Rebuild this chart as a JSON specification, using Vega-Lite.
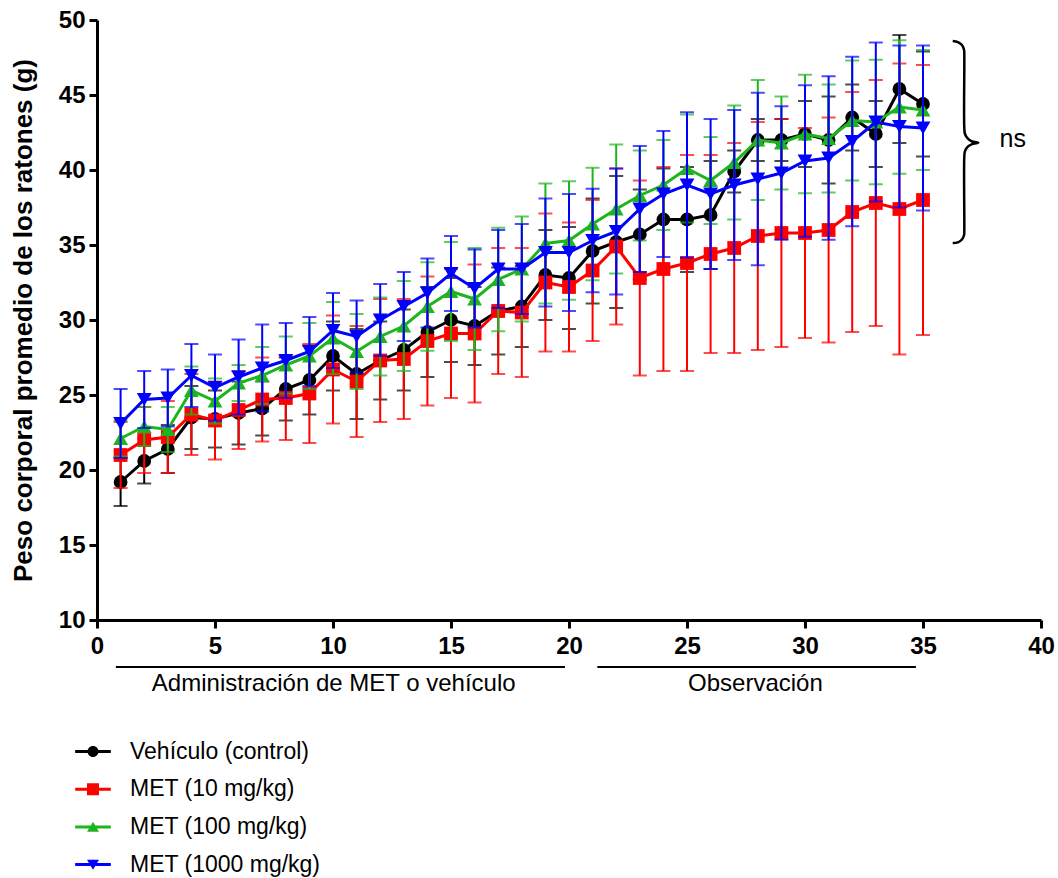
{
  "$schema": "https://vega.github.io/schema/vega-lite/v6.json",
  "width": 944,
  "height": 600,
  "autosize": {"type": "none"},
  "padding": {"left": 97, "top": 20, "right": 17, "bottom": 258},
  "background": "white",
  "config": {
    "view": {"stroke": null},
    "font": "Liberation Sans",
    "axis": {"grid": false, "domainColor": "black", "domainWidth": 3, "tickColor": "black", "tickWidth": 3, "tickSize": 8, "labelFont": "Liberation Sans", "labelFontSize": 24, "labelFontWeight": "bold", "labelColor": "black", "titleFont": "Liberation Sans", "titleFontSize": 26, "titleFontWeight": "bold", "titleColor": "black"}
  },
  "datasets": {
    "main": [
      {"d":1,"g":"Vehículo (control)","m":19.2,"sd":1.6},{"d":2,"g":"Vehículo (control)","m":20.6,"sd":1.5},{"d":3,"g":"Vehículo (control)","m":21.4,"sd":1.6},{"d":4,"g":"Vehículo (control)","m":23.5,"sd":2.1},{"d":5,"g":"Vehículo (control)","m":23.4,"sd":1.9},{"d":6,"g":"Vehículo (control)","m":23.8,"sd":2.1},{"d":7,"g":"Vehículo (control)","m":24.1,"sd":1.8},{"d":8,"g":"Vehículo (control)","m":25.4,"sd":2.1},{"d":9,"g":"Vehículo (control)","m":26.0,"sd":2.3},{"d":10,"g":"Vehículo (control)","m":27.6,"sd":2.3},{"d":11,"g":"Vehículo (control)","m":26.4,"sd":3.0},{"d":12,"g":"Vehículo (control)","m":27.3,"sd":2.6},{"d":13,"g":"Vehículo (control)","m":28.0,"sd":2.7},{"d":14,"g":"Vehículo (control)","m":29.2,"sd":3.0},{"d":15,"g":"Vehículo (control)","m":30.0,"sd":2.8},{"d":16,"g":"Vehículo (control)","m":29.6,"sd":2.6},{"d":17,"g":"Vehículo (control)","m":30.6,"sd":2.9},{"d":18,"g":"Vehículo (control)","m":30.9,"sd":2.7},{"d":19,"g":"Vehículo (control)","m":33.0,"sd":3.0},{"d":20,"g":"Vehículo (control)","m":32.8,"sd":3.4},{"d":21,"g":"Vehículo (control)","m":34.6,"sd":3.5},{"d":22,"g":"Vehículo (control)","m":35.2,"sd":4.4},{"d":23,"g":"Vehículo (control)","m":35.7,"sd":3.0},{"d":24,"g":"Vehículo (control)","m":36.7,"sd":3.4},{"d":25,"g":"Vehículo (control)","m":36.7,"sd":3.5},{"d":26,"g":"Vehículo (control)","m":37.0,"sd":3.6},{"d":27,"g":"Vehículo (control)","m":39.9,"sd":1.4},{"d":28,"g":"Vehículo (control)","m":42.0,"sd":1.4},{"d":29,"g":"Vehículo (control)","m":42.0,"sd":1.4},{"d":30,"g":"Vehículo (control)","m":42.4,"sd":2.2},{"d":31,"g":"Vehículo (control)","m":42.0,"sd":2.9},{"d":32,"g":"Vehículo (control)","m":43.5,"sd":2.2},{"d":33,"g":"Vehículo (control)","m":42.4,"sd":2.2},{"d":34,"g":"Vehículo (control)","m":45.4,"sd":3.6},{"d":35,"g":"Vehículo (control)","m":44.4,"sd":3.5},
      {"d":1,"g":"MET (10 mg/kg)","m":21.0,"sd":2.2},{"d":2,"g":"MET (10 mg/kg)","m":22.0,"sd":2.2},{"d":3,"g":"MET (10 mg/kg)","m":22.2,"sd":2.4},{"d":4,"g":"MET (10 mg/kg)","m":23.7,"sd":2.7},{"d":5,"g":"MET (10 mg/kg)","m":23.3,"sd":2.6},{"d":6,"g":"MET (10 mg/kg)","m":24.0,"sd":2.6},{"d":7,"g":"MET (10 mg/kg)","m":24.7,"sd":2.8},{"d":8,"g":"MET (10 mg/kg)","m":24.8,"sd":2.8},{"d":9,"g":"MET (10 mg/kg)","m":25.1,"sd":3.3},{"d":10,"g":"MET (10 mg/kg)","m":26.7,"sd":3.6},{"d":11,"g":"MET (10 mg/kg)","m":25.9,"sd":3.7},{"d":12,"g":"MET (10 mg/kg)","m":27.3,"sd":4.1},{"d":13,"g":"MET (10 mg/kg)","m":27.4,"sd":4.0},{"d":14,"g":"MET (10 mg/kg)","m":28.6,"sd":4.3},{"d":15,"g":"MET (10 mg/kg)","m":29.1,"sd":4.3},{"d":16,"g":"MET (10 mg/kg)","m":29.1,"sd":4.6},{"d":17,"g":"MET (10 mg/kg)","m":30.6,"sd":4.2},{"d":18,"g":"MET (10 mg/kg)","m":30.5,"sd":4.3},{"d":19,"g":"MET (10 mg/kg)","m":32.5,"sd":4.6},{"d":20,"g":"MET (10 mg/kg)","m":32.2,"sd":4.3},{"d":21,"g":"MET (10 mg/kg)","m":33.3,"sd":4.7},{"d":22,"g":"MET (10 mg/kg)","m":34.9,"sd":5.2},{"d":23,"g":"MET (10 mg/kg)","m":32.8,"sd":6.5},{"d":24,"g":"MET (10 mg/kg)","m":33.4,"sd":6.8},{"d":25,"g":"MET (10 mg/kg)","m":33.8,"sd":7.2},{"d":26,"g":"MET (10 mg/kg)","m":34.4,"sd":6.6},{"d":27,"g":"MET (10 mg/kg)","m":34.8,"sd":7.0},{"d":28,"g":"MET (10 mg/kg)","m":35.6,"sd":7.6},{"d":29,"g":"MET (10 mg/kg)","m":35.8,"sd":7.6},{"d":30,"g":"MET (10 mg/kg)","m":35.8,"sd":7.0},{"d":31,"g":"MET (10 mg/kg)","m":36.0,"sd":7.5},{"d":32,"g":"MET (10 mg/kg)","m":37.2,"sd":8.0},{"d":33,"g":"MET (10 mg/kg)","m":37.8,"sd":8.2},{"d":34,"g":"MET (10 mg/kg)","m":37.4,"sd":9.7},{"d":35,"g":"MET (10 mg/kg)","m":38.0,"sd":9.0},
      {"d":1,"g":"MET (100 mg/kg)","m":22.1,"sd":1.2},{"d":2,"g":"MET (100 mg/kg)","m":22.9,"sd":1.3},{"d":3,"g":"MET (100 mg/kg)","m":22.7,"sd":1.5},{"d":4,"g":"MET (100 mg/kg)","m":25.3,"sd":1.6},{"d":5,"g":"MET (100 mg/kg)","m":24.6,"sd":1.5},{"d":6,"g":"MET (100 mg/kg)","m":25.8,"sd":1.2},{"d":7,"g":"MET (100 mg/kg)","m":26.3,"sd":1.9},{"d":8,"g":"MET (100 mg/kg)","m":27.0,"sd":1.9},{"d":9,"g":"MET (100 mg/kg)","m":27.6,"sd":2.2},{"d":10,"g":"MET (100 mg/kg)","m":28.8,"sd":2.4},{"d":11,"g":"MET (100 mg/kg)","m":27.9,"sd":2.5},{"d":12,"g":"MET (100 mg/kg)","m":28.9,"sd":2.6},{"d":13,"g":"MET (100 mg/kg)","m":29.6,"sd":3.0},{"d":14,"g":"MET (100 mg/kg)","m":30.9,"sd":2.95},{"d":15,"g":"MET (100 mg/kg)","m":31.9,"sd":3.3},{"d":16,"g":"MET (100 mg/kg)","m":31.4,"sd":3.4},{"d":17,"g":"MET (100 mg/kg)","m":32.7,"sd":3.45},{"d":18,"g":"MET (100 mg/kg)","m":33.4,"sd":3.5},{"d":19,"g":"MET (100 mg/kg)","m":35.1,"sd":4.0},{"d":20,"g":"MET (100 mg/kg)","m":35.3,"sd":3.95},{"d":21,"g":"MET (100 mg/kg)","m":36.4,"sd":3.75},{"d":22,"g":"MET (100 mg/kg)","m":37.4,"sd":4.3},{"d":23,"g":"MET (100 mg/kg)","m":38.3,"sd":3.0},{"d":24,"g":"MET (100 mg/kg)","m":39.0,"sd":3.0},{"d":25,"g":"MET (100 mg/kg)","m":40.1,"sd":3.6},{"d":26,"g":"MET (100 mg/kg)","m":39.3,"sd":2.9},{"d":27,"g":"MET (100 mg/kg)","m":40.5,"sd":3.8},{"d":28,"g":"MET (100 mg/kg)","m":42.0,"sd":4.0},{"d":29,"g":"MET (100 mg/kg)","m":41.8,"sd":3.1},{"d":30,"g":"MET (100 mg/kg)","m":42.4,"sd":3.95},{"d":31,"g":"MET (100 mg/kg)","m":42.1,"sd":3.6},{"d":32,"g":"MET (100 mg/kg)","m":43.3,"sd":4.0},{"d":33,"g":"MET (100 mg/kg)","m":43.2,"sd":4.15},{"d":34,"g":"MET (100 mg/kg)","m":44.2,"sd":4.45},{"d":35,"g":"MET (100 mg/kg)","m":44.0,"sd":4.0},
      {"d":1,"g":"MET (1000 mg/kg)","m":23.1,"sd":2.3},{"d":2,"g":"MET (1000 mg/kg)","m":24.7,"sd":1.9},{"d":3,"g":"MET (1000 mg/kg)","m":24.8,"sd":1.9},{"d":4,"g":"MET (1000 mg/kg)","m":26.3,"sd":2.1},{"d":5,"g":"MET (1000 mg/kg)","m":25.5,"sd":2.2},{"d":6,"g":"MET (1000 mg/kg)","m":26.2,"sd":2.5},{"d":7,"g":"MET (1000 mg/kg)","m":26.8,"sd":2.9},{"d":8,"g":"MET (1000 mg/kg)","m":27.3,"sd":2.5},{"d":9,"g":"MET (1000 mg/kg)","m":27.9,"sd":2.3},{"d":10,"g":"MET (1000 mg/kg)","m":29.3,"sd":2.5},{"d":11,"g":"MET (1000 mg/kg)","m":28.9,"sd":2.4},{"d":12,"g":"MET (1000 mg/kg)","m":30.0,"sd":2.4},{"d":13,"g":"MET (1000 mg/kg)","m":30.9,"sd":2.3},{"d":14,"g":"MET (1000 mg/kg)","m":31.8,"sd":2.3},{"d":15,"g":"MET (1000 mg/kg)","m":33.1,"sd":2.5},{"d":16,"g":"MET (1000 mg/kg)","m":32.1,"sd":2.6},{"d":17,"g":"MET (1000 mg/kg)","m":33.4,"sd":2.6},{"d":18,"g":"MET (1000 mg/kg)","m":33.4,"sd":3.0},{"d":19,"g":"MET (1000 mg/kg)","m":34.5,"sd":3.6},{"d":20,"g":"MET (1000 mg/kg)","m":34.5,"sd":3.9},{"d":21,"g":"MET (1000 mg/kg)","m":35.3,"sd":3.45},{"d":22,"g":"MET (1000 mg/kg)","m":35.9,"sd":4.2},{"d":23,"g":"MET (1000 mg/kg)","m":37.4,"sd":4.2},{"d":24,"g":"MET (1000 mg/kg)","m":38.4,"sd":4.2},{"d":25,"g":"MET (1000 mg/kg)","m":39.0,"sd":4.85},{"d":26,"g":"MET (1000 mg/kg)","m":38.4,"sd":5.0},{"d":27,"g":"MET (1000 mg/kg)","m":39.0,"sd":5.0},{"d":28,"g":"MET (1000 mg/kg)","m":39.4,"sd":5.75},{"d":29,"g":"MET (1000 mg/kg)","m":39.8,"sd":4.45},{"d":30,"g":"MET (1000 mg/kg)","m":40.6,"sd":5.05},{"d":31,"g":"MET (1000 mg/kg)","m":40.8,"sd":5.45},{"d":32,"g":"MET (1000 mg/kg)","m":41.9,"sd":5.65},{"d":33,"g":"MET (1000 mg/kg)","m":43.2,"sd":5.3},{"d":34,"g":"MET (1000 mg/kg)","m":42.9,"sd":5.4},{"d":35,"g":"MET (1000 mg/kg)","m":42.8,"sd":5.5}
    ],
    "spans": [
      {"x1":0.8,"x2":19.83,"y":6.87},
      {"x1":21.2,"x2":34.7,"y":6.87}
    ],
    "labels": [
      {"x":10.03,"y":5.73,"label":"Administración de MET o vehículo"},
      {"x":27.9,"y":5.73,"label":"Observación"}
    ],
    "ns": [{"x":38.8,"y":42.1,"label":"ns"}],
    "brace": [
      {"i":0,"x":36.26,"y":48.6},{"i":1,"x":36.48,"y":48.53},{"i":2,"x":36.65,"y":48.33},{"i":3,"x":36.74,"y":48.0},{"i":4,"x":36.75,"y":47.67},{"i":5,"x":36.75,"y":42.8},{"i":6,"x":36.78,"y":42.4},{"i":7,"x":36.91,"y":42.07},{"i":8,"x":37.08,"y":41.9},{"i":9,"x":37.34,"y":41.82},{"i":10,"x":37.08,"y":41.73},{"i":11,"x":36.91,"y":41.57},{"i":12,"x":36.78,"y":41.27},{"i":13,"x":36.75,"y":40.87},{"i":14,"x":36.75,"y":36.0},{"i":15,"x":36.74,"y":35.67},{"i":16,"x":36.65,"y":35.37},{"i":17,"x":36.48,"y":35.18},{"i":18,"x":36.26,"y":35.13}
    ]
  },
  "data": {"name": "main"},
  "resolve": {"scale": {"color": "independent", "shape": "independent"}, "legend": {"color": "independent", "shape": "independent"}},
  "layer": [
    {
      "transform": [{"filter": {"field": "g", "equal": "Vehículo (control)"}}],
      "layer": [
        {"mark": {"type": "errorbar", "ticks": {"size": 14}, "thickness": 2},
         "encoding": {"x": {"field": "d", "type": "quantitative", "scale": {"domain": [0, 40], "nice": false, "zero": false}, "axis": {"title": null}}, "y": {"field": "m", "type": "quantitative", "scale": {"domain": [10, 50], "nice": false, "zero": false}, "axis": {"title": "Peso corporal promedio de los ratones (g)"}}, "yError": {"field": "sd"}, "color": {"field": "g", "type": "nominal", "scale": {"domain": ["Vehículo (control)", "MET (10 mg/kg)", "MET (100 mg/kg)", "MET (1000 mg/kg)"], "range": ["#000000", "#ff0000", "#1db51d", "#0000ff"]}, "legend": null}}},
        {"mark": {"type": "line", "strokeWidth": 3},
         "encoding": {"x": {"field": "d", "type": "quantitative", "scale": {"domain": [0, 40], "nice": false, "zero": false}, "axis": {"values": [0,5,10,15,20,25,30,35,40], "title": null, "labelPadding": 6, "labelFlush": false}}, "y": {"field": "m", "type": "quantitative", "scale": {"domain": [10, 50], "nice": false, "zero": false}, "axis": {"values": [10,15,20,25,30,35,40,45,50], "title": "Peso corporal promedio de los ratones (g)", "titlePadding": 22, "labelPadding": 4}}, "color": {"field": "g", "type": "nominal", "scale": {"domain": ["Vehículo (control)", "MET (10 mg/kg)", "MET (100 mg/kg)", "MET (1000 mg/kg)"], "range": ["#000000", "#ff0000", "#1db51d", "#0000ff"]}, "legend": null}}},
        {"mark": {"type": "point", "filled": true, "opacity": 1, "size": 190},
         "encoding": {"x": {"field": "d", "type": "quantitative", "axis": {"title": null}}, "y": {"field": "m", "type": "quantitative", "axis": {"title": "Peso corporal promedio de los ratones (g)"}}, "color": {"field": "g", "type": "nominal", "scale": {"domain": ["Vehículo (control)", "MET (10 mg/kg)", "MET (100 mg/kg)", "MET (1000 mg/kg)"], "range": ["#000000", "#ff0000", "#1db51d", "#0000ff"]}, "legend": null}, "shape": {"field": "g", "type": "nominal", "scale": {"domain": ["Vehículo (control)", "MET (10 mg/kg)", "MET (100 mg/kg)", "MET (1000 mg/kg)"], "range": ["circle", "square", "triangle-up", "triangle-down"]}, "legend": null}}}
      ]
    },
    {
      "transform": [{"filter": {"field": "g", "equal": "MET (10 mg/kg)"}}],
      "layer": [
        {"mark": {"type": "errorbar", "ticks": {"size": 14}, "thickness": 2},
         "encoding": {"x": {"field": "d", "type": "quantitative", "axis": {"title": null}}, "y": {"field": "m", "type": "quantitative", "axis": {"title": "Peso corporal promedio de los ratones (g)"}}, "yError": {"field": "sd"}, "color": {"field": "g", "type": "nominal", "scale": {"domain": ["Vehículo (control)", "MET (10 mg/kg)", "MET (100 mg/kg)", "MET (1000 mg/kg)"], "range": ["#000000", "#ff0000", "#1db51d", "#0000ff"]}, "legend": null}}},
        {"mark": {"type": "line", "strokeWidth": 3},
         "encoding": {"x": {"field": "d", "type": "quantitative", "axis": {"title": null}}, "y": {"field": "m", "type": "quantitative", "axis": {"title": "Peso corporal promedio de los ratones (g)"}}, "color": {"field": "g", "type": "nominal", "scale": {"domain": ["Vehículo (control)", "MET (10 mg/kg)", "MET (100 mg/kg)", "MET (1000 mg/kg)"], "range": ["#000000", "#ff0000", "#1db51d", "#0000ff"]}, "legend": null}}},
        {"mark": {"type": "point", "filled": true, "opacity": 1, "size": 190},
         "encoding": {"x": {"field": "d", "type": "quantitative", "axis": {"title": null}}, "y": {"field": "m", "type": "quantitative", "axis": {"title": "Peso corporal promedio de los ratones (g)"}}, "color": {"field": "g", "type": "nominal", "scale": {"domain": ["Vehículo (control)", "MET (10 mg/kg)", "MET (100 mg/kg)", "MET (1000 mg/kg)"], "range": ["#000000", "#ff0000", "#1db51d", "#0000ff"]}, "legend": null}, "shape": {"field": "g", "type": "nominal", "scale": {"domain": ["Vehículo (control)", "MET (10 mg/kg)", "MET (100 mg/kg)", "MET (1000 mg/kg)"], "range": ["circle", "square", "triangle-up", "triangle-down"]}, "legend": null}}}
      ]
    },
    {
      "transform": [{"filter": {"field": "g", "equal": "MET (100 mg/kg)"}}],
      "layer": [
        {"mark": {"type": "errorbar", "ticks": {"size": 14}, "thickness": 2},
         "encoding": {"x": {"field": "d", "type": "quantitative", "axis": {"title": null}}, "y": {"field": "m", "type": "quantitative", "axis": {"title": "Peso corporal promedio de los ratones (g)"}}, "yError": {"field": "sd"}, "color": {"field": "g", "type": "nominal", "scale": {"domain": ["Vehículo (control)", "MET (10 mg/kg)", "MET (100 mg/kg)", "MET (1000 mg/kg)"], "range": ["#000000", "#ff0000", "#1db51d", "#0000ff"]}, "legend": null}}},
        {"mark": {"type": "line", "strokeWidth": 3},
         "encoding": {"x": {"field": "d", "type": "quantitative", "axis": {"title": null}}, "y": {"field": "m", "type": "quantitative", "axis": {"title": "Peso corporal promedio de los ratones (g)"}}, "color": {"field": "g", "type": "nominal", "scale": {"domain": ["Vehículo (control)", "MET (10 mg/kg)", "MET (100 mg/kg)", "MET (1000 mg/kg)"], "range": ["#000000", "#ff0000", "#1db51d", "#0000ff"]}, "legend": null}}},
        {"mark": {"type": "point", "filled": true, "opacity": 1, "size": 220},
         "encoding": {"x": {"field": "d", "type": "quantitative", "axis": {"title": null}}, "y": {"field": "m", "type": "quantitative", "axis": {"title": "Peso corporal promedio de los ratones (g)"}}, "color": {"field": "g", "type": "nominal", "scale": {"domain": ["Vehículo (control)", "MET (10 mg/kg)", "MET (100 mg/kg)", "MET (1000 mg/kg)"], "range": ["#000000", "#ff0000", "#1db51d", "#0000ff"]}, "legend": null}, "shape": {"field": "g", "type": "nominal", "scale": {"domain": ["Vehículo (control)", "MET (10 mg/kg)", "MET (100 mg/kg)", "MET (1000 mg/kg)"], "range": ["circle", "square", "triangle-up", "triangle-down"]}, "legend": null}}}
      ]
    },
    {
      "transform": [{"filter": {"field": "g", "equal": "MET (1000 mg/kg)"}}],
      "layer": [
        {"mark": {"type": "errorbar", "ticks": {"size": 14}, "thickness": 2},
         "encoding": {"x": {"field": "d", "type": "quantitative", "axis": {"title": null}}, "y": {"field": "m", "type": "quantitative", "axis": {"title": "Peso corporal promedio de los ratones (g)"}}, "yError": {"field": "sd"}, "color": {"field": "g", "type": "nominal", "scale": {"domain": ["Vehículo (control)", "MET (10 mg/kg)", "MET (100 mg/kg)", "MET (1000 mg/kg)"], "range": ["#000000", "#ff0000", "#1db51d", "#0000ff"]}, "legend": null}}},
        {"mark": {"type": "line", "strokeWidth": 3},
         "encoding": {"x": {"field": "d", "type": "quantitative", "axis": {"title": null}}, "y": {"field": "m", "type": "quantitative", "axis": {"title": "Peso corporal promedio de los ratones (g)"}}, "color": {"field": "g", "type": "nominal", "scale": {"domain": ["Vehículo (control)", "MET (10 mg/kg)", "MET (100 mg/kg)", "MET (1000 mg/kg)"], "range": ["#000000", "#ff0000", "#1db51d", "#0000ff"]}, "legend": null}}},
        {"mark": {"type": "point", "filled": true, "opacity": 1, "size": 220},
         "encoding": {"x": {"field": "d", "type": "quantitative", "axis": {"title": null}}, "y": {"field": "m", "type": "quantitative", "axis": {"title": "Peso corporal promedio de los ratones (g)"}}, "color": {"field": "g", "type": "nominal", "scale": {"domain": ["Vehículo (control)", "MET (10 mg/kg)", "MET (100 mg/kg)", "MET (1000 mg/kg)"], "range": ["#000000", "#ff0000", "#1db51d", "#0000ff"]}, "legend": null}, "shape": {"field": "g", "type": "nominal", "scale": {"domain": ["Vehículo (control)", "MET (10 mg/kg)", "MET (100 mg/kg)", "MET (1000 mg/kg)"], "range": ["circle", "square", "triangle-up", "triangle-down"]}, "legend": null}}}
      ]
    },
    {
      "mark": {"type": "point", "filled": true, "opacity": 0},
      "encoding": {
        "x": {"field": "d", "type": "quantitative", "axis": {"title": null}},
        "y": {"field": "m", "type": "quantitative", "axis": {"title": "Peso corporal promedio de los ratones (g)"}},
        "color": {"field": "g", "type": "nominal", "scale": {"domain": ["Vehículo (control)", "MET (10 mg/kg)", "MET (100 mg/kg)", "MET (1000 mg/kg)"], "range": ["#000000", "#ff0000", "#1db51d", "#0000ff"]},
          "legend": {"title": null, "orient": "none", "legendX": -15.5, "legendY": 720, "symbolSize": 121, "symbolOpacity": 1, "symbolStrokeWidth": 0, "labelFont": "Liberation Sans", "labelFontSize": 23, "labelColor": "black", "labelOffset": 25.5, "labelLimit": 500, "rowPadding": 13.7, "padding": 0}},
        "shape": {"field": "g", "type": "nominal", "scale": {"domain": ["Vehículo (control)", "MET (10 mg/kg)", "MET (100 mg/kg)", "MET (1000 mg/kg)"], "range": ["M-3.24,-0.27H3.24V0.27H-3.24Z M1,0A1,1,0,1,1,-1,0A1,1,0,1,1,1,0Z", "M-3.24,-0.27H3.24V0.27H-3.24Z M-1.09,-1.09H1.09V1.09H-1.09Z", "M-3.24,-0.27H3.24V0.27H-3.24Z M0,-0.95L1.09,0.9H-1.09Z", "M-3.24,-0.27H3.24V0.27H-3.24Z M-1.09,-0.9H1.09L0,0.95Z"]},
          "legend": {"title": null, "orient": "none", "legendX": -15.5, "legendY": 720, "symbolSize": 121, "symbolOpacity": 1, "symbolStrokeWidth": 0, "labelFont": "Liberation Sans", "labelFontSize": 23, "labelColor": "black", "labelOffset": 25.5, "labelLimit": 500, "rowPadding": 13.7, "padding": 0}}
      }
    },
    {
      "data": {"name": "spans"},
      "mark": {"type": "rule", "color": "black", "strokeWidth": 2},
      "encoding": {"x": {"field": "x1", "type": "quantitative", "axis": {"title": null}}, "x2": {"field": "x2"}, "y": {"field": "y", "type": "quantitative", "axis": {"title": "Peso corporal promedio de los ratones (g)"}}}
    },
    {
      "data": {"name": "labels"},
      "mark": {"type": "text", "font": "Liberation Sans", "fontSize": 24, "color": "black", "align": "center", "baseline": "middle"},
      "encoding": {"x": {"field": "x", "type": "quantitative", "axis": {"title": null}}, "y": {"field": "y", "type": "quantitative", "axis": {"title": "Peso corporal promedio de los ratones (g)"}}, "text": {"field": "label"}}
    },
    {
      "data": {"name": "ns"},
      "mark": {"type": "text", "font": "Liberation Sans", "fontSize": 25, "color": "black", "align": "center", "baseline": "middle"},
      "encoding": {"x": {"field": "x", "type": "quantitative", "axis": {"title": null}}, "y": {"field": "y", "type": "quantitative", "axis": {"title": "Peso corporal promedio de los ratones (g)"}}, "text": {"field": "label"}}
    },
    {
      "data": {"name": "brace"},
      "mark": {"type": "line", "color": "black", "strokeWidth": 2.5, "interpolate": "catmull-rom"},
      "encoding": {"x": {"field": "x", "type": "quantitative", "axis": {"title": null}}, "y": {"field": "y", "type": "quantitative", "axis": {"title": "Peso corporal promedio de los ratones (g)"}}, "order": {"field": "i", "type": "quantitative"}}
    }
  ]
}
